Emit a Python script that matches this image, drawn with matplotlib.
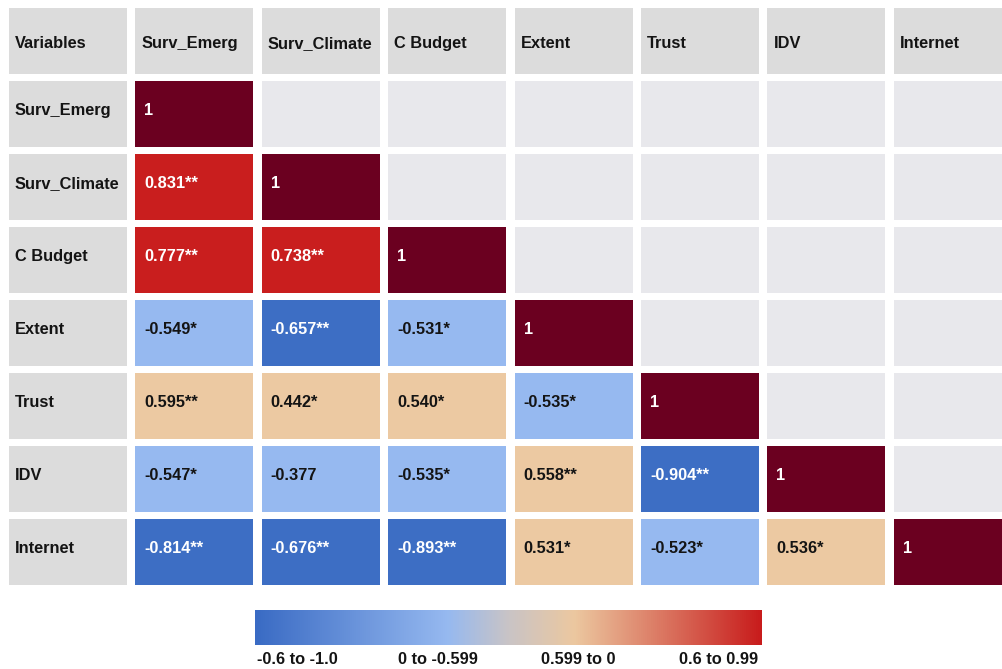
import numpy as np
import matplotlib.pyplot as plt
from matplotlib.patches import Rectangle
from matplotlib.colors import LinearSegmentedColormap

plt.rcParams['font.family'] = ['Liberation Sans', 'DejaVu Sans']

# variables and lower-triangle correlations
variables = ['Surv_Emerg', 'Surv_Climate', 'C Budget', 'Extent', 'Trust', 'IDV', 'Internet']
corr = [
    [1.0],
    [0.831, 1.0],
    [0.777, 0.738, 1.0],
    [-0.549, -0.657, -0.531, 1.0],
    [0.595, 0.442, 0.540, -0.535, 1.0],
    [-0.547, -0.377, -0.535, 0.558, -0.904, 1.0],
    [-0.814, -0.676, -0.893, 0.531, -0.523, 0.536, 1.0],
]
stars = [
    [''],
    ['**', ''],
    ['**', '**', ''],
    ['*', '**', '*', ''],
    ['**', '*', '*', '*', ''],
    ['*', '', '*', '**', '**', ''],
    ['**', '**', '**', '*', '*', '*', ''],
]
legend_labels = ['-0.6 to -1.0', '0 to -0.599', '0.599 to 0', '0.6 to 0.99']

HEADER = '#dcdcdc'
EMPTY = '#e8e8ec'
DIAG = '#6b0020'


def cell_color(v):
    if v >= 0.999:
        return DIAG
    if v >= 0.6:
        return '#c91e1e'
    if v >= 0:
        return '#ecc9a2'
    if v > -0.6:
        return '#96b9f0'
    return '#3d6ec4'


fig = plt.figure(figsize=(10.02, 6.69), dpi=100)
ax = fig.add_axes([0, 0, 1, 1])
ax.axis('off')

x0, y0 = 9, 8
dx, dy = 126.4, 73.0
w, h = 118, 65.5
fs = 11.8
ink = '#141414'

n = len(variables)
headers = ['Variables'] + variables
# header row
for i, name in enumerate(headers):
    x = x0 + i * dx
    ax.add_patch(Rectangle((x, y0), w, h, color=HEADER, lw=0))
    ax.text(x + 6, y0 + h / 2 + 2.5, name, fontsize=fs, fontweight='bold',
            va='center', ha='left', color=ink)

for r in range(n):
    y = y0 + (r + 1) * dy
    yc = y + h / 2 - 3.5
    ax.add_patch(Rectangle((x0, y), w, h, color=HEADER, lw=0))
    ax.text(x0 + 6, yc, variables[r], fontsize=fs, fontweight='bold',
            va='center', ha='left', color=ink)
    for c in range(n):
        x = x0 + (c + 1) * dx
        if c > r:
            ax.add_patch(Rectangle((x, y), w, h, color=EMPTY, lw=0))
            continue
        v = corr[r][c]
        col = cell_color(v)
        ax.add_patch(Rectangle((x, y), w, h, color=col, lw=0))
        label = '1' if v >= 0.999 else f'{v:.3f}' + stars[r][c]
        tc = 'white' if col in (DIAG, '#c91e1e', '#3d6ec4') else ink
        ax.text(x + 9, yc, label, fontsize=fs, fontweight='bold',
                va='center', ha='left', color=tc)

# gradient legend
cmap = LinearSegmentedColormap.from_list('legend', [
    (0.0, '#3a6bc4'), (0.38, '#96b9f0'), (0.5, '#c9c4c6'),
    (0.63, '#ecc8a0'), (1.0, '#c81c1c')])
grad = np.linspace(0, 1, 512)[None, :]
ax.imshow(grad, cmap=cmap, aspect='auto', extent=(255, 762, 645, 610))
for k, lab in enumerate(legend_labels):
    ax.text(297 + k * 140.5, 660, lab, fontsize=fs, fontweight='bold',
            ha='center', va='center', color=ink)
ax.set_xlim(0, 1002)
ax.set_ylim(669, 0)

fig.savefig('out.png', dpi=100)
